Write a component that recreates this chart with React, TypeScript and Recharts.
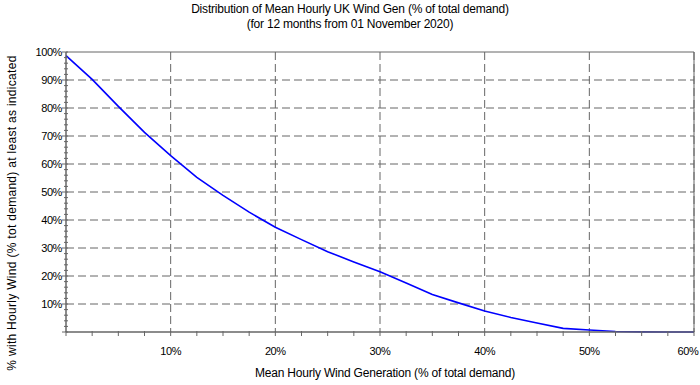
import { CartesianGrid, Line, LineChart, ReferenceLine, XAxis, YAxis } from "recharts";

// 風力発電の持続曲線（出力 % ごとの到達時間割合）

const windGen = [0, 2.5, 5, 7.5, 10, 12.5, 15, 17.5, 20, 22.5, 25, 27.5, 30, 32.5, 35, 37.5, 40, 42.5, 45, 47.5, 50, 52.5, 55, 57.5, 60];
const hoursShare = [98.7, 90.2, 80.6, 71.3, 63, 55.2, 48.8, 42.8, 37.4, 33, 28.7, 25, 21.5, 17.5, 13.4, 10.4, 7.5, 5.2, 3.2, 1.3, 0.7, 0.2, 0.05, 0, 0];

const xTicks = windGen;
const xGrid = [10, 20, 30, 40, 50, 60];
const yTicks = Array.from({ length: 51 }, (_, i) => i * 2);
const yGrid = [10, 20, 30, 40, 50, 60, 70, 80, 90];

const data = windGen.map((x, i) => ({ x, y: hoursShare[i] }));

const FONT = "'Liberation Sans', Arial, sans-serif";
const AXIS = "#666";
const GRID = "#666";

function YTick(props: any) {
  const { x, y, payload } = props;
  const v = payload.value as number;
  const major = v % 10 === 0;
  return (
    <g>
      <line x1={major ? x - 4 : x - 2} x2={x + 2} y1={y} y2={y} stroke={AXIS} />
      {major && v > 0 && (
        <text x={x - 4} y={y} dy={4} textAnchor="end" fontSize={11} fontFamily={FONT} fill="#000" letterSpacing={-0.4}>
          {v}%
        </text>
      )}
    </g>
  );
}

function XTick(props: any) {
  const { x, y, payload } = props;
  const v = payload.value as number;
  // 右端のラベルは枠内に収まるよう少し左へ
  const lx = v === 60 ? x - 6 : x;
  return (
    <g>
      <line x1={x} x2={x} y1={y - 1} y2={y + 4} stroke={AXIS} />
      {v % 10 === 0 && v > 0 && (
        <text x={lx} y={y + 23} textAnchor="middle" fontSize={11} fontFamily={FONT} fill="#000" letterSpacing={-0.4}>
          {v}%
        </text>
      )}
    </g>
  );
}

export default function App() {
  return (
    <div style={{ position: "absolute", left: 0, top: 0, width: 700, height: 385, background: "#fff", fontFamily: FONT }}>
      <div style={{ position: "absolute", top: 2, left: 0, width: 700, textAlign: "center", fontSize: 12, lineHeight: "15px", letterSpacing: -0.2 }}>
        Distribution of Mean Hourly UK Wind Gen (% of total demand)
        <br />
        (for 12 months from 01 November 2020)
      </div>
      <LineChart width={700} height={385} data={data} margin={{ top: 52, right: 6, left: 0, bottom: 0 }}>
        <CartesianGrid
          stroke={GRID}
          strokeDasharray="8 4"
          horizontalValues={yGrid}
          verticalValues={xGrid}
        />
        <XAxis
          dataKey="x"
          type="number"
          domain={[0, 60]}
          ticks={xTicks}
          interval={0}
          height={53}
          axisLine={{ stroke: AXIS, strokeWidth: 1.5 }}
          tickLine={false}
          tickSize={0}
          tickMargin={0}
          tick={<XTick />}
        />
        <YAxis
          type="number"
          domain={[0, 100]}
          ticks={yTicks}
          interval={0}
          width={66}
          axisLine={{ stroke: AXIS, strokeWidth: 1.5 }}
          tickLine={false}
          tickSize={0}
          tickMargin={0}
          tick={<YTick />}
        />
        <ReferenceLine y={100} stroke={AXIS} />
        <ReferenceLine x={60} stroke={AXIS} />
        <Line type="linear" dataKey="y" stroke="#0000ff" strokeWidth={1.6} dot={false} isAnimationActive={false} />
      </LineChart>
      <div style={{ position: "absolute", top: 366, left: 0, width: 770, textAlign: "center", fontSize: 12, letterSpacing: -0.2 }}>
        Mean Hourly Wind Generation (% of total demand)
      </div>
      <div
        style={{
          position: "absolute",
          left: 12,
          top: 213,
          width: 360,
          transform: "translate(-50%, -50%) rotate(-90deg)",
          textAlign: "center",
          fontSize: 12,
          letterSpacing: 0.3,
          whiteSpace: "nowrap",
        }}
      >
        % with Hourly Wind (% tot demand) at least as indicated
      </div>
    </div>
  );
}
